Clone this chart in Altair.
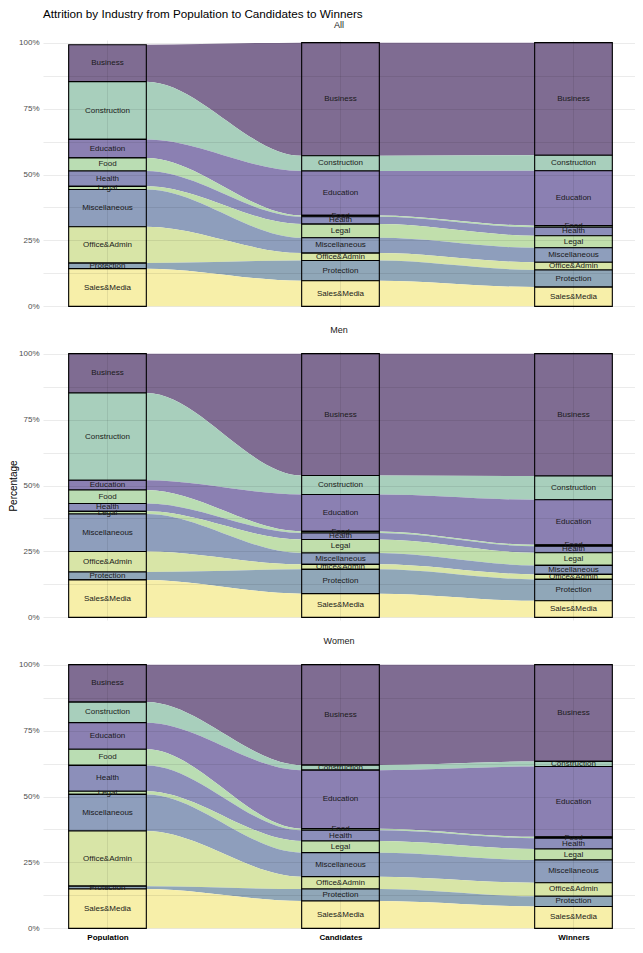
import altair as alt
import pandas as pd

CATEGORIES = ["Business", "Construction", "Education", "Food", "Health", "Legal",
              "Miscellaneous", "Office&Admin", "Protection", "Sales&Media"]
STAGES = ["Population", "Candidates", "Winners"]
GROUPS = ["All", "Men", "Women"]

COLORS = ["#7F6C92", "#A8CFBC", "#8B80B2", "#BADDB3", "#8C8FBA", "#C1DFAC",
          "#8E9EBC", "#D8E5A7", "#90A7B8", "#F7EFA9"]

ALL_POPULATION = [14.0, 21.9, 7.0, 5.0, 5.8, 1.2, 14.1, 13.8, 2.1, 14.3]
ALL_CANDIDATES = [42.9, 5.8, 16.8, 0.5, 2.8, 5.2, 5.8, 2.8, 7.7, 9.7]
ALL_WINNERS = [42.7, 5.9, 20.8, 0.6, 3.2, 4.6, 5.5, 2.9, 6.5, 7.3]

MEN_POPULATION = [14.9, 33.1, 3.7, 5.1, 3.0, 1.0, 14.2, 7.8, 3.0, 14.2]
MEN_CANDIDATES = [46.2, 7.2, 14.0, 0.6, 2.5, 5.1, 4.3, 1.9, 9.2, 9.0]
MEN_WINNERS = [46.4, 9.0, 17.1, 0.5, 2.5, 4.8, 3.4, 1.9, 8.1, 6.3]

WOMEN_POPULATION = [14.2, 7.8, 10.1, 6.1, 9.8, 1.2, 13.9, 20.9, 1.1, 14.9]
WOMEN_CANDIDATES = [38.1, 1.9, 22.2, 0.6, 4.1, 4.4, 9.1, 4.7, 4.5, 10.4]
WOMEN_WINNERS = [36.7, 1.9, 26.7, 0.5, 4.1, 4.2, 8.6, 5.1, 3.9, 8.3]

SERIES = {
    "All": [ALL_POPULATION, ALL_CANDIDATES, ALL_WINNERS],
    "Men": [MEN_POPULATION, MEN_CANDIDATES, MEN_WINNERS],
    "Women": [WOMEN_POPULATION, WOMEN_CANDIDATES, WOMEN_WINNERS],
}

rows = []
for g in GROUPS:
    for si, stage in enumerate(STAGES):
        for ci, cat in enumerate(CATEGORIES):
            for side in (-1, 1):
                rows.append({"group": g, "stage": stage, "stage_idx": si + 1,
                             "category": cat, "order": ci,
                             "value": SERIES[g][si][ci], "side": side})
df = pd.DataFrame(rows)

FONT = "Liberation Sans"
HALF = 1 / 6
W = 592
H = 269
xs = alt.Scale(domain=[0.7232, 3.264], nice=False, zero=False)
ys = alt.Scale(domain=[-1, 101], nice=False, zero=False)
cs = alt.Scale(domain=CATEGORIES, range=COLORS)

label_expr = " : ".join(
    [f"datum.value == {i + 1} ? '{s}'" for i, s in enumerate(STAGES[:-1])]
) + f" : '{STAGES[-1]}'"


def make_panel(gname, show_x, ytitle, title_offset):
    xaxis = alt.Axis(values=[1, 2, 3], labels=show_x, labelExpr=label_expr,
                     labelFontWeight="bold", labelFontSize=8, labelColor="#000000",
                     labelFont=FONT, labelPadding=2,
                     domain=False, ticks=False, title=None, grid=True,
                     gridColor="#000000", gridOpacity=0.08, gridWidth=1, zindex=1)
    yaxis = alt.Axis(values=[0, 12.5, 25, 37.5, 50, 62.5, 75, 87.5, 100],
                     labelExpr="datum.value % 25 == 0 ? datum.value + '%' : ''",
                     labelFontSize=8, labelColor="#4D4D4D", labelFont=FONT,
                     labelPadding=4, domain=False, ticks=False,
                     title=ytitle if ytitle else None, titleFontSize=10,
                     titleFontWeight="normal", titleColor="#000000", titleFont=FONT,
                     titlePadding=0, grid=True, gridColor="#000000",
                     gridOpacity=0.08, gridWidth=1, zindex=1)
    base = (
        alt.Chart(df)
        .transform_filter(alt.datum.group == gname)
        .transform_stack(stack="value", groupby=["stage", "side"],
                         sort=[alt.SortField("order", order="descending")],
                         as_=["y0", "y1"])
        .transform_calculate(
            xpos=f"datum.stage_idx + datum.side * {HALF}",
            xl=f"datum.stage_idx - {HALF}",
            xr=f"datum.stage_idx + {HALF}",
            ymid="(datum.y0 + datum.y1) / 2",
        )
    )
    flows = base.mark_area(interpolate="monotone").encode(
        x=alt.X("xpos:Q", scale=xs, axis=xaxis),
        y=alt.Y("y0:Q", scale=ys, axis=yaxis),
        y2="y1:Q",
        color=alt.Color("category:N", scale=cs, legend=None),
        detail="category:N",
    )
    boxes = base.transform_filter(alt.datum.side == -1).mark_rect(
        stroke="#000000", strokeWidth=1.1
    ).encode(
        x=alt.X("xl:Q", scale=xs, axis=xaxis),
        x2="xr:Q",
        y=alt.Y("y0:Q", scale=ys, axis=yaxis),
        y2="y1:Q",
        color=alt.Color("category:N", scale=cs, legend=None),
    )
    labels = base.transform_filter(alt.datum.side == -1).mark_text(
        fontSize=8, font=FONT, color="#1A1A1A"
    ).encode(
        x=alt.X("stage_idx:Q", scale=xs, axis=xaxis),
        y=alt.Y("ymid:Q", scale=ys, axis=yaxis),
        text="category:N",
    )
    return alt.layer(flows, boxes, labels).properties(
        width=W, height=H,
        title=alt.TitleParams(gname, fontSize=9, anchor="middle", offset=title_offset,
                              color="#1A1A1A", fontWeight="normal", font=FONT),
    )


p1 = make_panel("All", False, None, 9)
p2 = make_panel("Men", False, "Percentage", 15)
p3 = make_panel("Women", True, None, 15)

chart = alt.vconcat(p1, p2, p3, spacing=42, bounds="flush").properties(
    title=alt.TitleParams(
        "Attrition by Industry from Population to Candidates to Winners",
        anchor="start", frame="group", fontSize=11.7, fontWeight="normal",
        color="#000000", font=FONT, offset=0),
    padding={"left": 0, "top": 0, "right": 0, "bottom": 0},
).configure_view(strokeWidth=0)

chart.save("out.html", embed_options={"renderer": "svg", "actions": False})
